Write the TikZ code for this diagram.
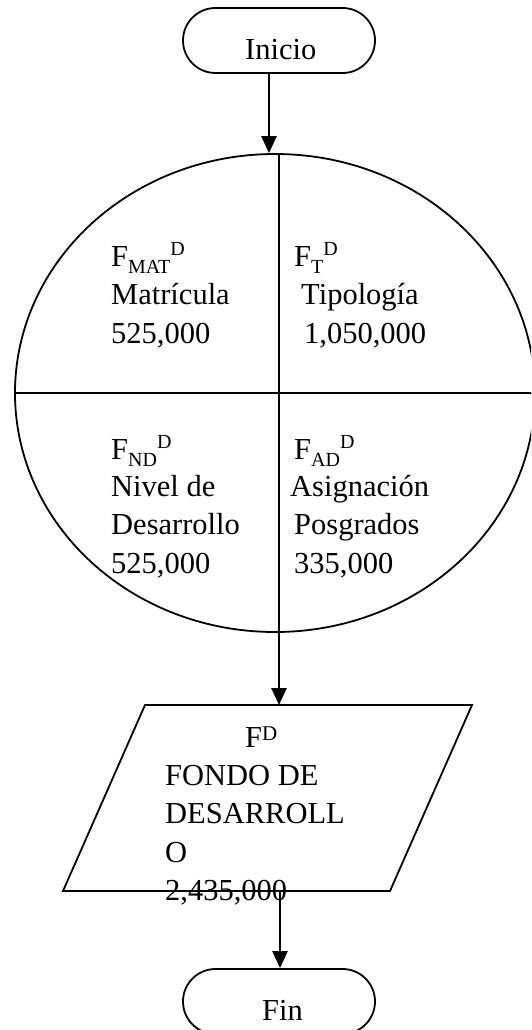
\documentclass[tikz,border=0pt]{standalone}
\usepackage{fontspec}
\setmainfont{Liberation Serif}
\usetikzlibrary{shapes.geometric,arrows.meta,calc}
\newcommand\subsup[2]{\raisebox{-7pt}{\fontsize{20}{20}\selectfont #1}\raisebox{11pt}{\fontsize{20}{20}\selectfont #2}}
\begin{document}
\begin{tikzpicture}[x=1pt,y=-1pt,
  outline/.style={draw,line width=1.8pt},
  arr/.style={line width=2.6pt,-{Triangle[length=17pt,width=15pt]}},
  txt/.style={anchor=base west,inner sep=0pt,font=\fontsize{30.5}{36}\selectfont},
  term/.style={draw,line width=1.8pt,rounded corners=32.5pt,minimum width=192pt,minimum height=65pt,inner sep=0pt}]
\useasboundingbox (0,0) rectangle (531,1030);
\clip (0,0) rectangle (531,1030);
% terminals
\node[term] (inicio) at (279,40.5) {};
\node[txt] (tinicio) at (245,60) {Inicio};
\node[term] (fin) at (279,1001.5) {};
\node[txt] (tfin) at (262,1020) {Fin};
% ellipse
\node[outline,ellipse,minimum width=520pt,minimum height=478pt,inner sep=0pt] (ell) at (275,393) {};
\coordinate (vt) at (279,154);
\coordinate (vb) at (279,632);
\draw[line width=1.8pt] (ell.west) -- (ell.east);
\draw[line width=1.8pt] (vt) -- (vb);
% parallelogram
\coordinate (p1) at (145,705);
\coordinate (p2) at (472,705);
\coordinate (p3) at (390,891);
\coordinate (p4) at (63,891);
\draw[line width=1.8pt] (p1) -- (p2) -- (p3) -- (p4) -- cycle;
% connectors
\coordinate (a1) at ($(inicio.south)+(-10,0)$);
\coordinate (a1e) at (a1 |- ell.north);
\draw[arr] (a1) -- (a1e);
\coordinate (ptop) at (vb |- p1);
\draw[arr] (vb) -- (ptop);
\coordinate (pbot) at ($(fin.north |- p4)+(1,0)$);
\coordinate (fintop) at ($(fin.north)+(1,0)$);
\draw[arr] (pbot) -- (fintop);
% quadrant texts
\node[txt] (q1a) at (111,266) {F\subsup{MAT}{D}};
\node[txt] (q1b) at (111,304.5) {Matrícula};
\node[txt] (q1c) at (111,343.5) {525,000};
\node[txt] (q2a) at (294,266) {F\subsup{T}{D}};
\node[txt] (q2b) at (301,304.5) {Tipología};
\node[txt] (q2c) at (304,343.5) {1,050,000};
\node[txt] (q3a) at (111,459) {F\subsup{ND}{D}};
\node[txt] (q3b) at (111,496) {Nivel de};
\node[txt] (q3c) at (111,534.5) {Desarrollo};
\node[txt] (q3d) at (111,573) {525,000};
\node[txt] (q4a) at (294,459) {F\subsup{AD}{D}};
\node[txt] (q4b) at (290,496) {Asignación};
\node[txt] (q4c) at (294,534.5) {Posgrados};
\node[txt] (q4d) at (294,573) {335,000};
% parallelogram text
\node[txt] (f1) at (245,747) {F\raisebox{7pt}{\fontsize{21}{21}\selectfont D}};
\node[txt] (f2) at (165,785) {FONDO DE};
\node[txt] (f3) at (165,823) {DESARROLL};
\node[txt] (f4) at (165,862) {O};
\node[txt] (f5) at (165,900) {2,435,000};
\end{tikzpicture}
\end{document}
